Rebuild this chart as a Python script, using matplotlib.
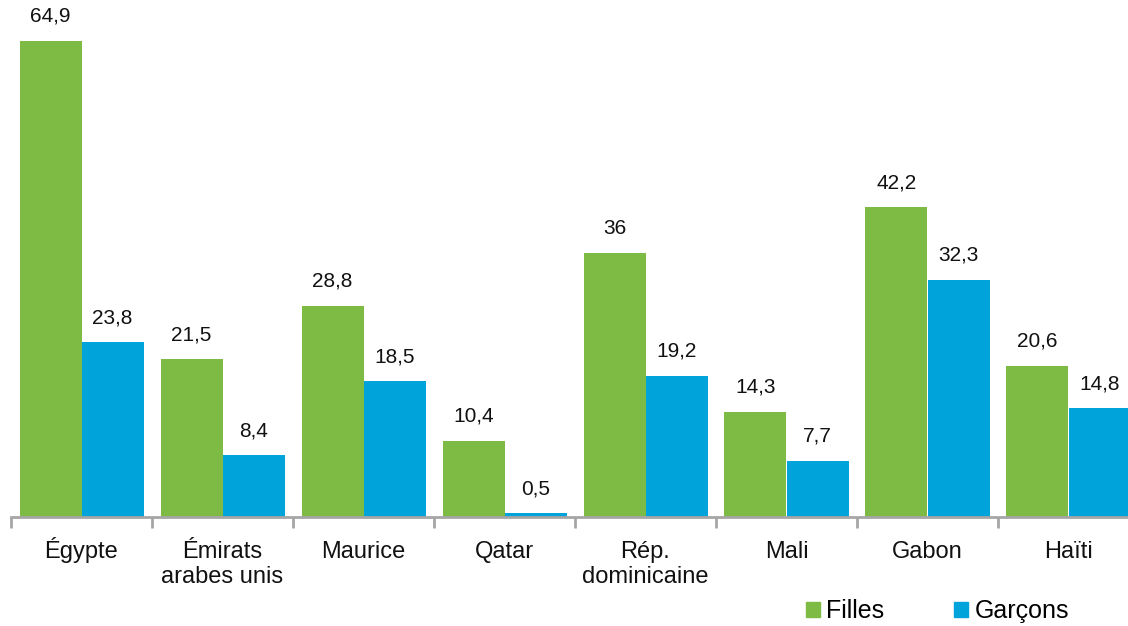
import matplotlib
matplotlib.use("Agg")
import matplotlib.pyplot as plt
from matplotlib.patches import Patch
import numpy as np

plt.rcParams["font.family"] = ["Liberation Sans", "DejaVu Sans"]

pays = ["Égypte", "Émirats\narabes unis", "Maurice", "Qatar",
        "Rép.\ndominicaine", "Mali", "Gabon", "Haïti"]
filles = [64.9, 21.5, 28.8, 10.4, 36, 14.3, 42.2, 20.6]
garcons = [23.8, 8.4, 18.5, 0.5, 19.2, 7.7, 32.3, 14.8]

vert = "#7DBB44"
bleu = "#00A3DA"
gris = "#A6A6A6"

W, H = 1128, 626
fig = plt.figure(figsize=(W / 100, H / 100), dpi=100)
# axes runs a little past the right edge, as the last group is cut off
ax = fig.add_axes([11 / W, 109 / H, 1128 / W, 513.5 / H])

x = np.arange(len(pays))
bw = 62 / 141
b1 = ax.bar(x - bw / 2, filles, bw, color=vert, linewidth=0)
b2 = ax.bar(x + bw / 2, garcons, bw, color=bleu, linewidth=0)


def fmt(v):
    s = f"{v:g}"
    return s.replace(".", ",")


for bars, vals in ((b1, filles), (b2, garcons)):
    ax.bar_label(bars, labels=[fmt(v) for v in vals], padding=11,
                 fontsize=15, color="#111111")

ax.set_xlim(-0.5, len(pays) - 0.5)
ax.set_ylim(0, 70)

for s in ("top", "right", "left"):
    ax.spines[s].set_visible(False)
ax.spines["bottom"].set_color(gris)
ax.spines["bottom"].set_linewidth(2)
ax.set_yticks([])

# every name gets two lines (second may be empty) so the first lines share a baseline
noms = [p if "\n" in p else p + "\n" for p in pays]
ax.set_xticks(x)
ax.set_xticklabels(noms, fontsize=17, linespacing=1.15, va="baseline")
ax.set_xticks(np.arange(len(pays) + 1) - 0.5, minor=True)
ax.tick_params(axis="x", which="major", length=0, pad=47.5, colors="#111111")
ax.tick_params(axis="x", which="minor", length=8, width=2, color=gris,
               direction="out")

handles = [Patch(color=vert, label="Filles"),
           Patch(color=bleu, label="Garçons")]
fig.legend(handles=handles, loc="center left",
           bbox_to_anchor=(806 / W, 1 - 611 / H), ncol=2, frameon=False,
           fontsize=18, handlelength=0.56, handleheight=0.56,
           handletextpad=0.25, columnspacing=2.8, borderpad=0,
           borderaxespad=0)

fig.savefig("out.png", dpi=100)
